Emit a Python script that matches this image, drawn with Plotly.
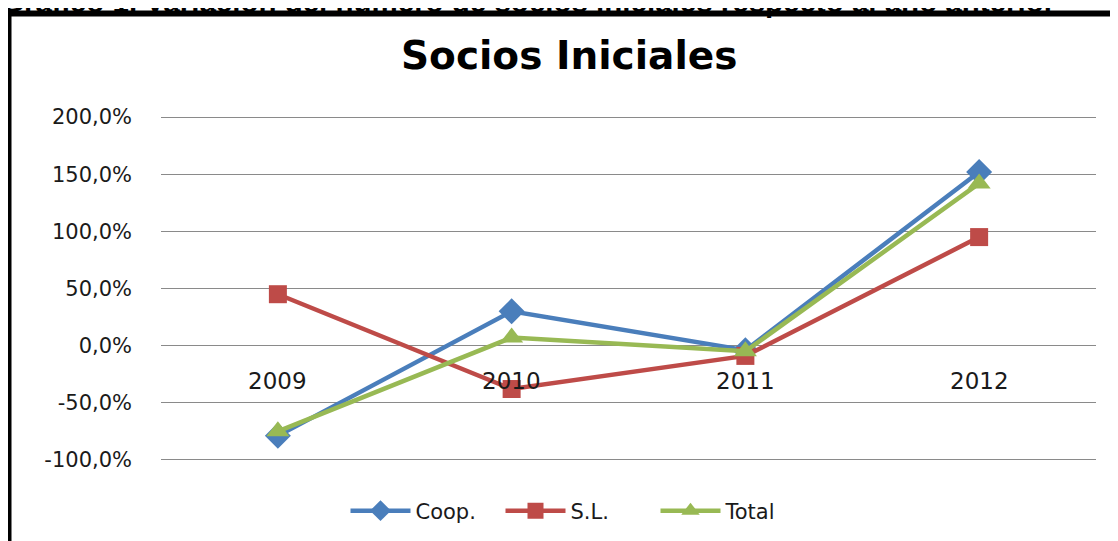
import plotly.graph_objects as go

years = ["2009", "2010", "2011", "2012"]
coop = [-79, 30, -4, 152]
sl = [45, -38, -9, 95]
total = [-75, 7, -5, 142]
y_ticks = [-100, -50, 0, 50, 100, 150, 200]
y_ticktext = ["-100,0%", "-50,0%", "0,0%", "50,0%", "100,0%", "150,0%", "200,0%"]

header = "Gráfico 1. Variación del número de socios iniciales respecto al año anterior"
title = "Socios Iniciales"

# page renders the figure with an 8px body offset; layout below is in figure pixels
L, R, T, B = 153, 30, 108, 88
PW, PH = 1118 - L - R, 541 - T - B


def px_x(x):
    return (x - L) / PW


def px_y(y):
    return (541 - B - y) / PH


fig = go.Figure()
series = [
    ("Coop.", coop, "#4A7EBB", "diamond", 20),
    ("S.L.", sl, "#BE4B48", "square", 18),
    ("Total", total, "#98B954", "triangle-up", 20),
]
for name, vals, color, sym, sz in series:
    fig.add_trace(go.Scatter(
        x=years, y=vals, name=name, mode="lines+markers",
        line=dict(color=color, width=4.5),
        marker=dict(symbol=sym, size=sz, color=color),
    ))

annotations = []
for i, yr in enumerate(years):
    annotations.append(dict(x=i, y=0, xref="x", yref="y", text=yr, showarrow=False,
                            yanchor="top", yshift=-20,
                            font=dict(family="DejaVu Sans", size=23, color="#1a1a1a")))
annotations.append(dict(text=f"<b>{title}</b>", showarrow=False, xref="paper", yref="paper",
                        x=px_x(561), xanchor="center", y=px_y(48), yanchor="middle",
                        font=dict(family="DejaVu Sans", size=39, color="#000000")))
annotations.append(dict(text=f"<b>{header}</b>", showarrow=False, xref="paper", yref="paper",
                        x=px_x(-9), xanchor="left", y=px_y(-6), yanchor="middle",
                        font=dict(family="Liberation Sans", size=29.5, color="#000000")))

fig.update_layout(
    width=1118, height=541,
    margin=dict(l=L, r=R, t=T, b=B, autoexpand=False),
    paper_bgcolor="white", plot_bgcolor="white",
    annotations=annotations,
    xaxis=dict(type="category", showticklabels=False, showgrid=False, zeroline=False,
               showline=False, range=[-0.5, 3.5], automargin=False),
    yaxis=dict(range=[-101, 201], tickvals=y_ticks, ticktext=y_ticktext,
               showgrid=True, gridcolor="#8a8a8a", gridwidth=1, zeroline=True,
               zerolinecolor="#8a8a8a", zerolinewidth=1, showline=False,
               ticklabelstandoff=28, automargin=False,
               tickfont=dict(family="DejaVu Sans", size=21, color="#1a1a1a")),
    legend=dict(orientation="h", x=px_x(570), xanchor="center", y=px_y(503),
                yanchor="middle", itemwidth=60, entrywidth=80, entrywidthmode="pixels",
                font=dict(family="DejaVu Sans", size=21, color="#1a1a1a")),
    showlegend=True,
)

fig.add_shape(type="rect", xref="paper", yref="paper",
              x0=px_x(0.5), x1=px_x(1140), y0=px_y(570), y1=px_y(5.5),
              line=dict(color="#000000", width=6), fillcolor="rgba(0,0,0,0)")

fig.write_html("out.html")
